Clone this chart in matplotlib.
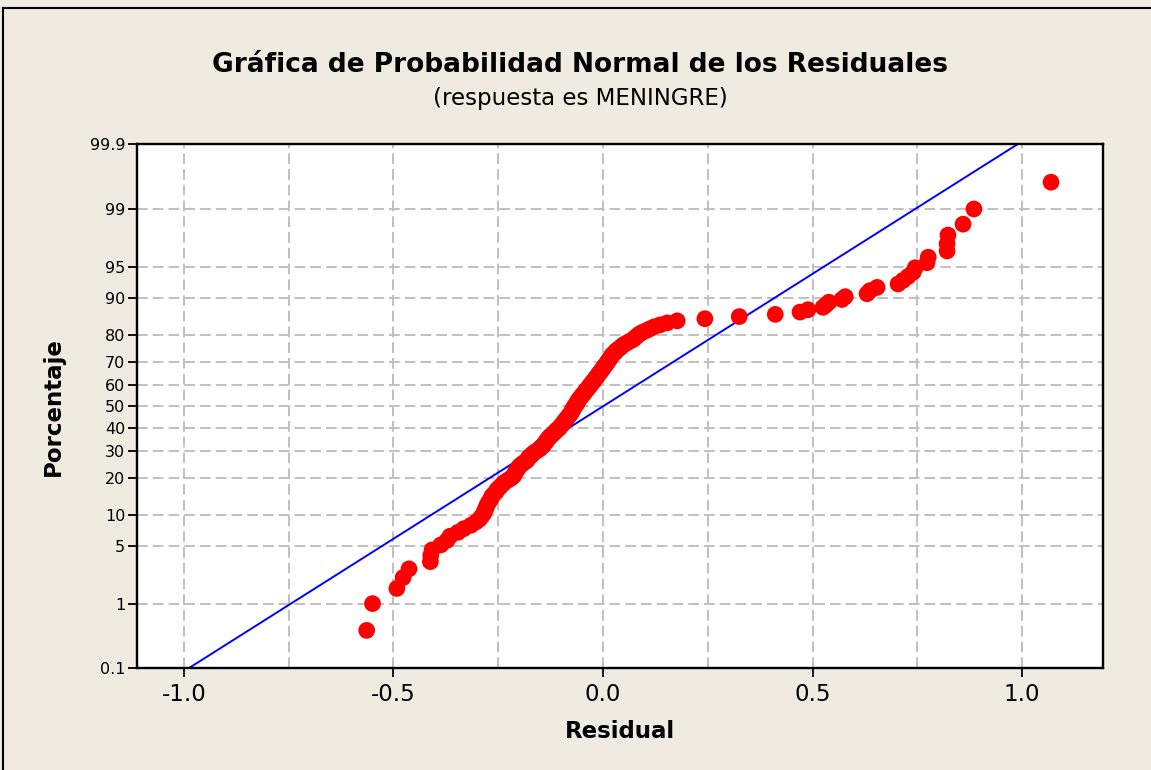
import numpy as np
import matplotlib
matplotlib.use("Agg")
import matplotlib.pyplot as plt
from matplotlib.ticker import FixedLocator, MultipleLocator
from statistics import NormalDist

# residuals, sorted (n = 170)
residuals = [
    -0.564, -0.550, -0.492, -0.477, -0.463, -0.411, -0.412, -0.408, -0.387, -0.372,
    -0.365, -0.346, -0.332, -0.315, -0.303, -0.294, -0.289, -0.284, -0.282, -0.279,
    -0.277, -0.274, -0.270, -0.267, -0.265, -0.260, -0.255, -0.253, -0.248, -0.243,
    -0.239, -0.234, -0.227, -0.220, -0.215, -0.212, -0.210, -0.208, -0.205, -0.203,
    -0.200, -0.196, -0.191, -0.186, -0.181, -0.179, -0.177, -0.172, -0.169, -0.165,
    -0.160, -0.155, -0.150, -0.148, -0.143, -0.141, -0.138, -0.136, -0.134, -0.131,
    -0.129, -0.126, -0.122, -0.119, -0.115, -0.112, -0.110, -0.105, -0.103, -0.100,
    -0.098, -0.095, -0.093, -0.091, -0.088, -0.086, -0.084, -0.081, -0.079, -0.076,
    -0.075, -0.074, -0.072, -0.070, -0.069, -0.067, -0.064, -0.062, -0.061, -0.060,
    -0.057, -0.055, -0.053, -0.050, -0.048, -0.045, -0.043, -0.041, -0.038, -0.036,
    -0.033, -0.031, -0.029, -0.026, -0.024, -0.021, -0.019, -0.017, -0.014, -0.012,
    -0.010, -0.007, -0.005, -0.002, 0.000, 0.002, 0.005, 0.007, 0.010, 0.012,
    0.014, 0.017, 0.019, 0.021, 0.024, 0.029, 0.031, 0.036, 0.041, 0.045,
    0.050, 0.057, 0.064, 0.072, 0.076, 0.081, 0.086, 0.093, 0.103, 0.112,
    0.122, 0.136, 0.153, 0.177, 0.243, 0.325, 0.411, 0.470, 0.489, 0.525,
    0.532, 0.539, 0.570, 0.578, 0.630, 0.637, 0.654, 0.704, 0.716, 0.728,
    0.740, 0.745, 0.773, 0.776, 0.821, 0.821, 0.823, 0.859, 0.885, 1.069,
]

# fitted normal line
fit_mean = 0.0
fit_sd = 0.32

y_ticks = [0.1, 1, 5, 10, 20, 30, 40, 50, 60, 70, 80, 90, 95, 99, 99.9]
y_labels = ["0.1", "1", "5", "10", "20", "30", "40", "50", "60", "70", "80", "90", "95", "99", "99.9"]
x_ticks = [-1.0, -0.5, 0.0, 0.5, 1.0]
x_labels = ["-1.0", "-0.5", "0.0", "0.5", "1.0"]

nd = NormalDist()
_ppf = np.vectorize(lambda v: nd.inv_cdf(v), otypes=[float])
_cdf = np.vectorize(lambda v: nd.cdf(v), otypes=[float])


def pct_to_z(p):
    p = np.clip(np.asarray(p, dtype=float) / 100.0, 1e-9, 1 - 1e-9)
    return _ppf(p)


def z_to_pct(z):
    return _cdf(np.asarray(z, dtype=float)) * 100.0


res = np.sort(np.array(residuals))
n = len(res)
pct = (np.arange(1, n + 1) - 0.3) / (n + 0.4) * 100  # median ranks

bg = "#efebe0"
fig = plt.figure(figsize=(11.51, 7.70), dpi=100, facecolor=bg)
ax = fig.add_axes([137 / 1151, 1 - 668.3 / 770, 966 / 1151, 524 / 770])
ax.set_facecolor("white")
ax.set_yscale("function", functions=(pct_to_z, z_to_pct))

zl = np.linspace(nd.inv_cdf(0.0009), nd.inv_cdf(0.9991), 300)
xl = fit_mean + fit_sd * zl
ax.plot(xl, z_to_pct(zl), color="#0000ff", lw=1.4, zorder=2)

ax.scatter(res, pct, s=145, color="#ff0000", edgecolors="none", zorder=3, clip_on=False)

ax.set_ylim(0.1, 99.9)
ax.set_xlim(-1.112, 1.193)
ax.yaxis.set_major_locator(FixedLocator(y_ticks))
ax.set_yticklabels(y_labels)
ax.yaxis.set_minor_locator(FixedLocator([]))
ax.set_xticks(x_ticks)
ax.set_xticklabels(x_labels)
ax.xaxis.set_minor_locator(MultipleLocator(0.25))

grid_ls = (0, (5.5, 2.6))
ax.grid(True, which="major", axis="y", color="#c0c0c0", ls=grid_ls, lw=1.4)
ax.grid(True, which="both", axis="x", color="#c0c0c0", ls=grid_ls, lw=1.4)
ax.set_axisbelow(True)

for s in ax.spines.values():
    s.set_linewidth(1.7)
    s.set_color("black")

ax.tick_params(axis="y", which="major", direction="out", length=6.5, width=1.3, labelsize=11.5, pad=2)
ax.tick_params(axis="x", which="major", direction="out", length=6.5, width=1.3, labelsize=16.5, pad=4)
ax.tick_params(axis="x", which="minor", length=0)

ax.set_xlabel("Residual", fontsize=16.5, fontweight="bold", labelpad=10)
ax.set_ylabel("Porcentaje", fontsize=16.5, fontweight="bold", labelpad=18)

fig.text(580 / 1151, 1 - 65 / 770, "Gráfica de Probabilidad Normal de los Residuales",
         ha="center", va="center", fontsize=19, fontweight="bold")
fig.text(580 / 1151, 1 - 99 / 770, "(respuesta es MENINGRE)",
         ha="center", va="center", fontsize=16.5)

# frame lines of the window
fig.add_artist(plt.Line2D([3 / 1151, 1], [1 - 8 / 770, 1 - 8 / 770], color="black", lw=1.5))
fig.add_artist(plt.Line2D([3 / 1151, 3 / 1151], [0, 1 - 8 / 770], color="black", lw=1.5))

fig.savefig("out.png", dpi=100, facecolor=bg)
